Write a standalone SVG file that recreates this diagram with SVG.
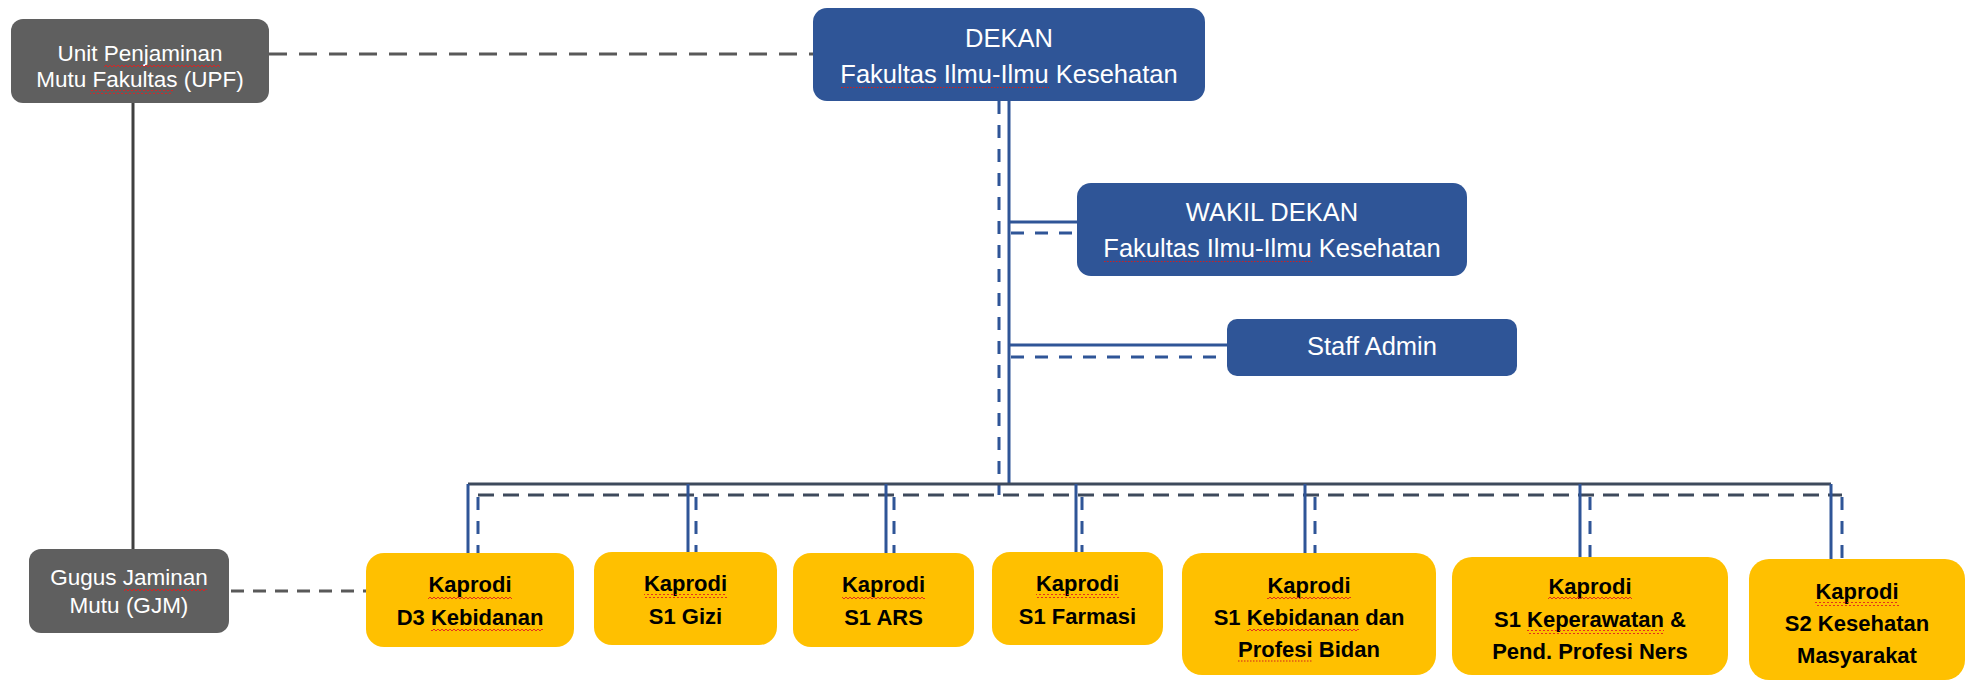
<svg xmlns="http://www.w3.org/2000/svg" width="1973" height="680" viewBox="0 0 1973 680">
<defs>
<pattern id="sq" width="4" height="4" patternUnits="userSpaceOnUse"><path d="M0 3 L2 1 L4 3" fill="none" stroke="#e02020" stroke-width="0.9"/></pattern>
<style>
.gray{fill:#5f5f5f}
.blue{fill:#2f5597}
.yel{fill:#ffc000}
.tw{font-family:"Liberation Sans",Arial,sans-serif;fill:#ffffff;text-anchor:middle}
.tb{font-family:"Liberation Sans",Arial,sans-serif;font-weight:bold;fill:#000000;text-anchor:middle;font-size:22px}
.g21{font-size:22.5px}
.b25{font-size:25.5px}
.cg{fill:none;stroke:#595959;stroke-width:3}
.cgs{fill:none;stroke:#404040;stroke-width:3}
.cb{fill:none;stroke:#2f5597;stroke-width:3}
.cbd{fill:none;stroke:#2f5597;stroke-width:3;stroke-dasharray:13 11}
.bus{fill:none;stroke:#3e4a5c;stroke-width:3}
.busd{fill:none;stroke:#3e4a5c;stroke-width:3;stroke-dasharray:16 9}
.dot{fill:none;stroke:#d02020;stroke-width:1.2;stroke-dasharray:1.5 1.5}
.wav{fill:url(#sq)}
</style>
</defs>
<rect width="1973" height="680" fill="#ffffff"/>
<g id="connectors">
<path class="cg" d="M269 54 H813" stroke-dasharray="18 12"/>
<path class="cgs" d="M133 103 V549"/>
<path class="cg" d="M231 591 H366" stroke-dasharray="13 9"/>
<path class="cb" d="M1009 101 V484"/>
<path class="cbd" d="M999 101 V495"/>
<path class="cb" d="M1009 222 H1077"/>
<path class="cbd" d="M1011 233 H1077" stroke-dasharray="13 8"/>
<path class="cb" d="M1009 345 H1227"/>
<path class="cbd" d="M1011 357 H1227" stroke-dasharray="13 8"/>
<path class="bus" d="M468 484 H1831"/>
<path class="busd" d="M478 495 H1842"/>
<path class="cb" d="M468 484 V553 M688 484 V552 M886 484 V553 M1076 484 V552 M1305 484 V553 M1580 484 V557 M1831 484 V559"/>
<path class="cbd" d="M478 497 V553 M696 497 V552 M894 497 V553 M1082 497 V552 M1315 497 V553 M1590 497 V557 M1842 497 V559"/>
</g>
<g id="upf">
<rect class="gray" x="11" y="19" width="258" height="84" rx="12"/>
<text class="tw g21" x="140" y="61">Unit Penjaminan</text>
<text class="tw g21" x="140" y="87">Mutu Fakultas (UPF)</text>
<rect class="wav" x="104" y="64" width="116" height="4"/>
<rect class="wav" x="90" y="90" width="83" height="4"/>
</g>
<g id="dekan">
<rect class="blue" x="813" y="8" width="392" height="93" rx="14"/>
<text class="tw b25" x="1009" y="47">DEKAN</text>
<text class="tw b25" x="1009" y="83">Fakultas Ilmu-Ilmu Kesehatan</text>
<path class="dot" d="M841 87.5 H1049"/>
</g>
<g id="wakil-dekan">
<rect class="blue" x="1077" y="183" width="390" height="93" rx="14"/>
<text class="tw b25" x="1272" y="221">WAKIL DEKAN</text>
<text class="tw b25" x="1272" y="257">Fakultas Ilmu-Ilmu Kesehatan</text>
<path class="dot" d="M1104 261.5 H1312"/>
</g>
<g id="staff-admin">
<rect class="blue" x="1227" y="319" width="290" height="57" rx="10"/>
<text class="tw b25" x="1372" y="355">Staff Admin</text>
</g>
<g id="gjm">
<rect class="gray" x="29" y="549" width="200" height="84" rx="12"/>
<text class="tw g21" x="129" y="585">Gugus Jaminan</text>
<text class="tw g21" x="129" y="613">Mutu (GJM)</text>
<rect class="wav" x="124" y="588" width="83" height="4"/>
</g>
<g id="kaprodi-d3-kebidanan">
<rect class="yel" x="366" y="553" width="208" height="94" rx="18"/>
<text class="tb" x="470" y="592">Kaprodi</text>
<text class="tb" x="470" y="625">D3 Kebidanan</text>
<rect class="wav" x="428" y="595" width="84" height="4"/>
<rect class="wav" x="431" y="628" width="112" height="4"/>
</g>
<g id="kaprodi-s1-gizi">
<rect class="yel" x="594" y="552" width="183" height="93" rx="18"/>
<text class="tb" x="685.5" y="591">Kaprodi</text>
<text class="tb" x="685.5" y="624">S1 Gizi</text>
<rect class="wav" x="644" y="594" width="83" height="4"/>
</g>
<g id="kaprodi-s1-ars">
<rect class="yel" x="793" y="553" width="181" height="94" rx="18"/>
<text class="tb" x="883.5" y="592">Kaprodi</text>
<text class="tb" x="883.5" y="625">S1 ARS</text>
<rect class="wav" x="842" y="595" width="83" height="4"/>
</g>
<g id="kaprodi-s1-farmasi">
<rect class="yel" x="992" y="552" width="171" height="93" rx="18"/>
<text class="tb" x="1077.5" y="591">Kaprodi</text>
<text class="tb" x="1077.5" y="624">S1 Farmasi</text>
<rect class="wav" x="1036" y="594" width="83" height="4"/>
</g>
<g id="kaprodi-s1-kebidanan">
<rect class="yel" x="1182" y="553" width="254" height="122" rx="20"/>
<text class="tb" x="1309" y="593">Kaprodi</text>
<text class="tb" x="1309" y="625">S1 Kebidanan dan</text>
<text class="tb" x="1309" y="657">Profesi Bidan</text>
<rect class="wav" x="1267" y="596" width="84" height="4"/>
<rect class="wav" x="1247" y="628" width="112" height="4"/>
<path class="dot" d="M1238 661 H1313"/>
</g>
<g id="kaprodi-s1-keperawatan">
<rect class="yel" x="1452" y="557" width="276" height="118" rx="20"/>
<text class="tb" x="1590" y="594">Kaprodi</text>
<text class="tb" x="1590" y="627">S1 Keperawatan &amp;</text>
<text class="tb" x="1590" y="659">Pend. Profesi Ners</text>
<rect class="wav" x="1548" y="597" width="84" height="4"/>
<rect class="wav" x="1527" y="630" width="137" height="4"/>
</g>
<g id="kaprodi-s2-kesmas">
<rect class="yel" x="1749" y="559" width="216" height="121" rx="20"/>
<text class="tb" x="1857" y="599">Kaprodi</text>
<text class="tb" x="1857" y="631">S2 Kesehatan</text>
<text class="tb" x="1857" y="663">Masyarakat</text>
<rect class="wav" x="1815" y="602" width="84" height="4"/>
</g>
</svg>
